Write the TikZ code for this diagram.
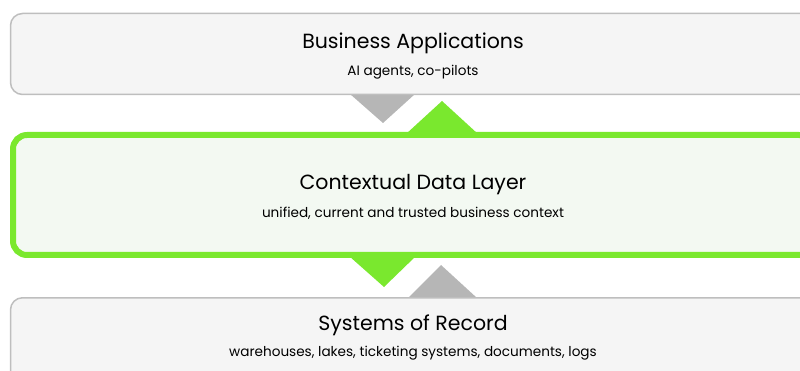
\documentclass[tikz,border=0pt]{standalone}
\usepackage{fontspec}
\setmainfont{Poppins}
\usetikzlibrary{calc}

\definecolor{boxgray}{RGB}{190,190,190}
\definecolor{boxfill}{RGB}{245,245,245}
\definecolor{arrowgray}{RGB}{182,182,182}
\definecolor{ctxgreen}{RGB}{122,232,46}
\definecolor{ctxfill}{RGB}{243,249,242}

\tikzset{
    layerbox/.style={draw=boxgray, fill=boxfill, line width=1.5pt, rounded corners=12pt, minimum width=805pt, inner sep=0pt},
    contextbox/.style={draw=ctxgreen, fill=ctxfill, line width=6pt, rounded corners=14pt, minimum width=800pt, minimum height=120pt, inner sep=0pt},
    titletext/.style={font=\fontsize{20.5}{24}\selectfont, inner sep=0pt},
    subtext/.style={font=\fontsize{13.6}{16}\selectfont, inner sep=0pt}
}

\begin{document}
\begin{tikzpicture}[x=1pt,y=-1pt]
                \useasboundingbox (0,0) rectangle (800,371);
                \clip (0,0) rectangle (800,371);
                
                % arrows between the layers
                \fill[arrowgray] (350,94) -- (415,94) -- (383,123) -- cycle;
                \fill[ctxgreen] (406,134) -- (478,134) -- (442,101) -- cycle;
                \fill[ctxgreen] (349,256) -- (416,256) -- (384,287) -- cycle;
                \fill[arrowgray] (408,298) -- (477,298) -- (441,265) -- cycle;
                
                % layers
                \node[layerbox, minimum height=81pt] (apps) at (413,54) {};
                \node[titletext] (appstitle) at (413,43) {Business Applications};
                \node[subtext] (appssub) at (413,72) {AI agents, co-pilots};
                
                \node[contextbox] (context) at (413,195) {};
                \node[titletext] (contexttitle) at (413,185) {Contextual Data Layer};
                \node[subtext] (contextsub) at (413,213) {unified, current and trusted business context};
                
                \node[layerbox, minimum height=90pt] (records) at (413,342.75) {};
                \node[titletext] (recordstitle) at (413,325) {Systems of Record};
                \node[subtext] (recordssub) at (413,353) {warehouses, lakes, ticketing systems, documents, logs};
            \end{tikzpicture}
\end{document}
